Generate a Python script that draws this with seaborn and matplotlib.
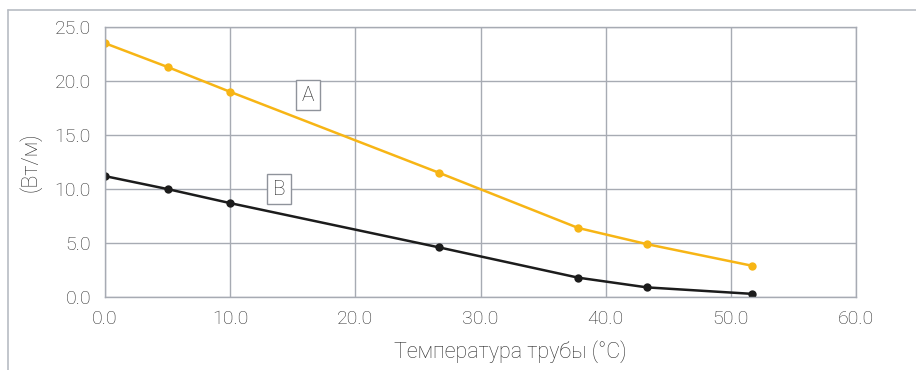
import matplotlib

matplotlib.use("Agg")

import matplotlib.pyplot as plt  # noqa: E402
import pandas as pd  # noqa: E402
import seaborn as sns  # noqa: E402
from matplotlib.lines import Line2D  # noqa: E402
from matplotlib.ticker import FormatStrFormatter  # noqa: E402

# pipe temperature (°C) and heat output (W/m) for cables A and B
temp_c = [0.0, 5.0, 10.0, 26.7, 37.8, 43.3, 51.7]
power_a = [23.5, 21.3, 19.0, 11.5, 6.4, 4.9, 2.9]
power_b = [11.2, 10.0, 8.7, 4.6, 1.8, 0.9, 0.3]
series_names = ["A", "B"]
x_ticks = [0, 10, 20, 30, 40, 50, 60]
y_ticks = [0, 5, 10, 15, 20, 25]
label_pos = {"A": (16.2, 18.7), "B": (13.9, 10.0)}

sns.set_theme(style="whitegrid")
plt.rcParams["font.family"] = ["Roboto", "DejaVu Sans"]

GRID = "#a7abb3"
TEXT = "#2e2e2e"
palette = {"A": "#f7b515", "B": "#1c1c1c"}

df = pd.DataFrame({
    "temp": temp_c * 2,
    "power": power_a + power_b,
    "series": [series_names[0]] * len(temp_c) + [series_names[1]] * len(temp_c),
})

fig = plt.figure(figsize=(9.16, 3.7), dpi=100)
ax = fig.add_axes([0.1146, 0.197, 0.82, 0.73])

sns.lineplot(data=df, x="temp", y="power", hue="series", palette=palette,
             marker="o", markersize=6, markeredgewidth=0, linewidth=1.8,
             legend=False, ax=ax)

ax.set_xlim(0, 60)
ax.set_ylim(0, 25)
ax.set_xticks(x_ticks)
ax.set_yticks(y_ticks)
ax.xaxis.set_major_formatter(FormatStrFormatter("%.1f"))
ax.yaxis.set_major_formatter(FormatStrFormatter("%.1f"))
ax.tick_params(axis="both", length=0, labelsize=14, labelcolor=TEXT)
ax.tick_params(axis="x", pad=9)
ax.tick_params(axis="y", pad=10)
for lbl in ax.get_xticklabels() + ax.get_yticklabels():
    lbl.set_fontweight("light")

ax.grid(True, color=GRID, linewidth=1.0)
for side in ax.spines.values():
    side.set_color(GRID)
    side.set_linewidth(1.0)

ax.set_xlabel("Температура трубы (°C)", fontsize=15.5, color=TEXT,
              fontweight="light")
ax.xaxis.set_label_coords(0.539, -0.16)
ax.set_ylabel("(Вт/м)", fontsize=15.5, color=TEXT, fontweight="light")
ax.yaxis.set_label_coords(-0.085, 0.5)

for name, (lx, ly) in label_pos.items():
    ax.text(lx, ly, name, fontsize=15, color=TEXT, fontweight="light",
            ha="center", va="center",
            bbox=dict(boxstyle="square,pad=0.28", facecolor="white",
                      edgecolor="#8f939b", linewidth=1.0))

# outer frame, cut at the right and bottom edges
fig.add_artist(Line2D([8 / 916, 1.0], [1 - 10 / 370] * 2, color="#b8bcc3",
                      linewidth=1.2, transform=fig.transFigure))
fig.add_artist(Line2D([8 / 916] * 2, [0.0, 1 - 10 / 370], color="#b8bcc3",
                      linewidth=1.2, transform=fig.transFigure))

fig.savefig("out.png", dpi=100)
